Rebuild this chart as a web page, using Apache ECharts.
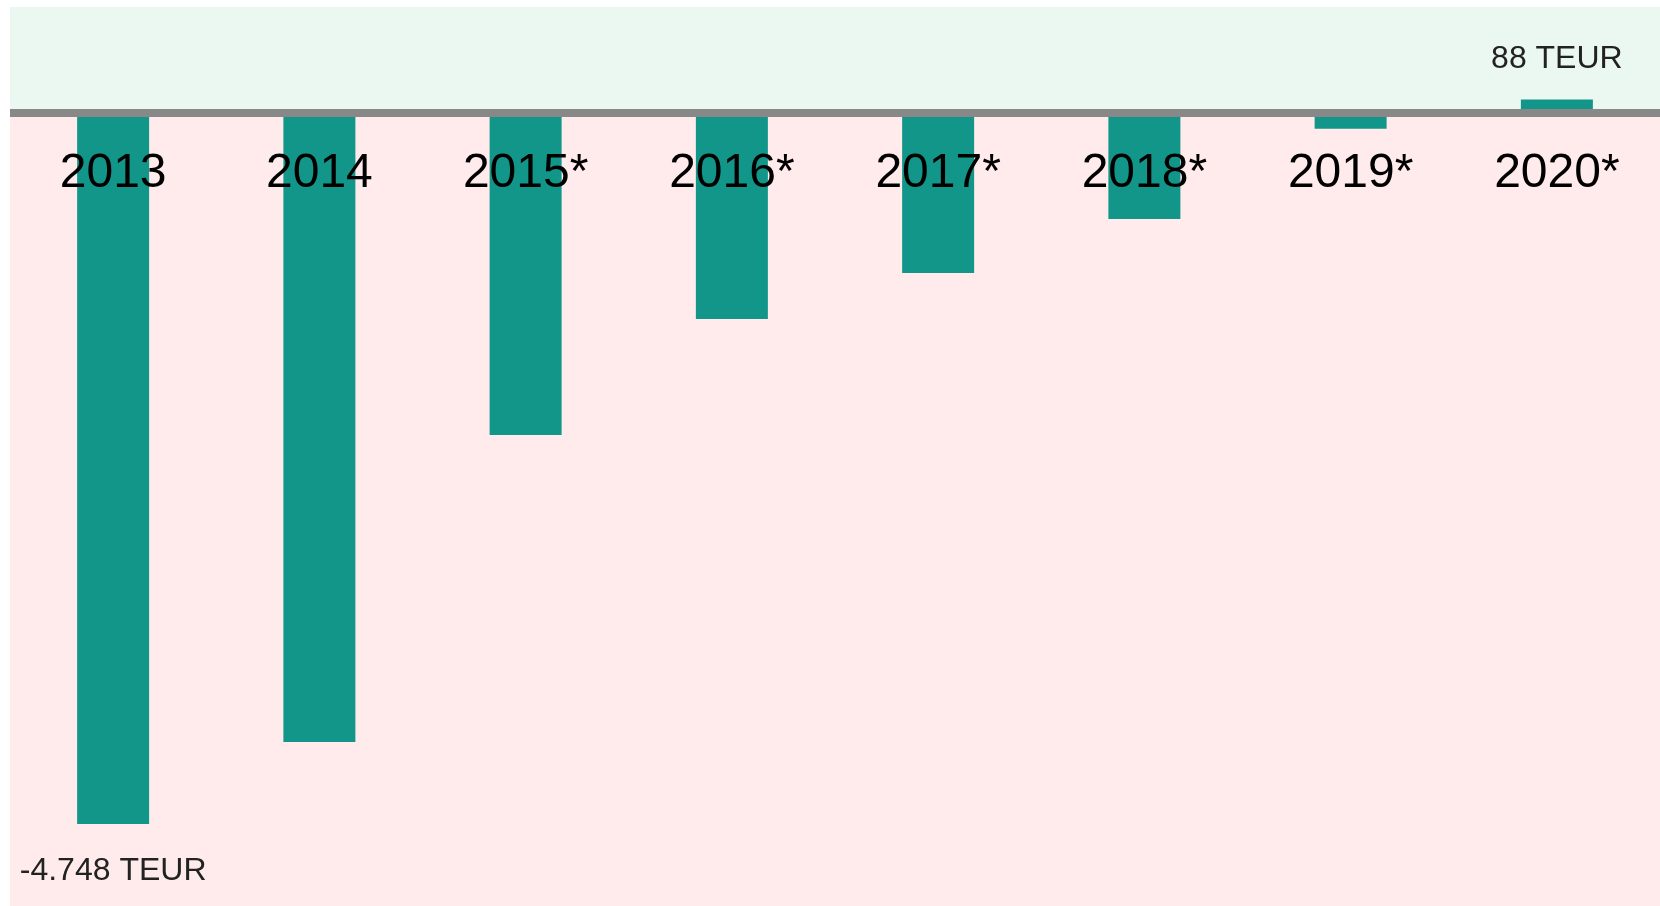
<!DOCTYPE html>
<html>
<head>
    <meta charset="UTF-8">
    <title>Ergebnis</title>
    <script src="https://cdn.jsdelivr.net/npm/echarts@6/dist/echarts.min.js"></script>
    <style>
        html, body { margin: 0; padding: 0; background: #fff; }
        #main { width: 1660px; height: 906px; }
    </style>
</head>
<body>
<div id="main"></div>
<script type="text/javascript">
    // Jahre (* = Plan)
    var years = ['2013', '2014', '2015*', '2016*', '2017*', '2018*', '2019*', '2020*'];
    // Ergebnis in TEUR
    var values = [-4748, -4201, -2151, -1377, -1070, -710, -107, 88];
    // welche Balken eine Beschriftung bekommen
    var showLabel = [true, false, false, false, false, false, false, true];

    function fmt(v) {
        var s = Math.abs(v).toString().replace(/\B(?=(\d{3})+(?!\d))/g, '.');
        return (v < 0 ? '-' : '') + s + ' TEUR';
    }

    var barData = values.map(function (v, i) {
        return {
            value: v,
            label: {
                show: showLabel[i],
                position: v < 0 ? 'bottom' : 'top',
                distance: v < 0 ? 31 : 24
            }
        };
    });

    var echart = echarts.init(document.getElementById('main'));
    var option = {
        animation: false,
        grid: {left: 10, right: 0, top: 7, bottom: 0, outerBoundsMode: 'none', containLabel: false},
        xAxis: [{
            // Nulllinie
            type: 'category',
            data: years,
            z: 10,
            axisLine: {onZero: true, lineStyle: {color: '#888888', width: 8, cap: 'butt'}},
            axisTick: {show: false},
            axisLabel: {show: false}
        }, {
            // Jahreszahlen direkt unter der Nulllinie
            type: 'category',
            data: years,
            position: 'top',
            offset: -106,
            z: 10,
            axisLine: {show: false},
            axisTick: {show: false},
            axisLabel: {
                inside: true,
                color: '#000',
                fontSize: 48,
                fontFamily: 'Liberation Sans, Arial, sans-serif',
                margin: 37
            }
        }],
        yAxis: {
            type: 'value',
            min: -5295,
            max: 705,
            show: false,
            splitLine: {show: false}
        },
        series: [{
            // Hintergrund: positiv hellgrün, negativ hellrot
            type: 'line',
            data: [],
            z: 1,
            silent: true,
            markArea: {
                silent: true,
                data: [
                    [{yAxis: 0, itemStyle: {color: '#ebf8f2'}}, {yAxis: 705}],
                    [{yAxis: -5295, itemStyle: {color: '#ffebeb'}}, {yAxis: 0}]
                ]
            }
        }, {
            type: 'bar',
            data: barData,
            z: 2,
            barWidth: 72,
            itemStyle: {color: '#12968a'},
            label: {
                color: '#222',
                fontSize: 32,
                fontFamily: 'Liberation Sans, Arial, sans-serif',
                formatter: function (p) { return fmt(p.value); }
            }
        }]
    };
    echart.setOption(option);
</script>
</body>
</html>
